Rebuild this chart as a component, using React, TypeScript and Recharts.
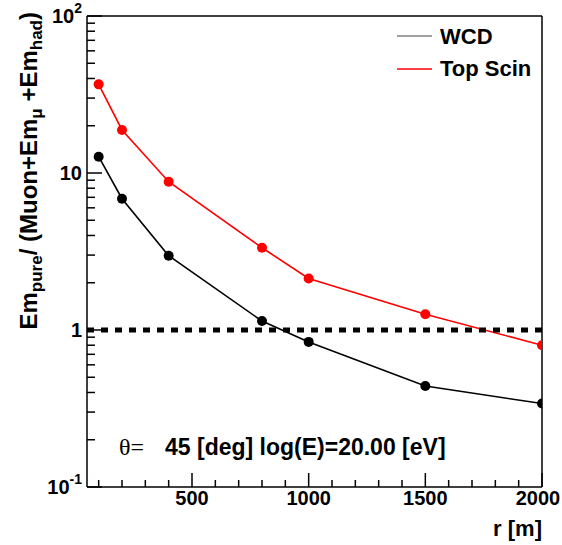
import React from 'react';
import { LineChart, Line, XAxis, YAxis, ReferenceLine } from 'recharts';

// r [m] of each station ring
const radii = [100, 200, 400, 800, 1000, 1500, 2000];
// Em_pure / (Muon + Em_mu + Em_had)
const wcdRatio = [12.7, 6.86, 2.97, 1.14, 0.84, 0.44, 0.34];
const topScinRatio = [36.7, 18.8, 8.8, 3.34, 2.13, 1.26, 0.8];

const xTicks = [
  100, 200, 300, 400, 500, 600, 700, 800, 900, 1000,
  1100, 1200, 1300, 1400, 1500, 1600, 1700, 1800, 1900, 2000,
];
const xLabels = [500, 1000, 1500, 2000];
const yTicks = [
  0.1, 0.2, 0.3, 0.4, 0.5, 0.6, 0.7, 0.8, 0.9,
  1, 2, 3, 4, 5, 6, 7, 8, 9,
  10, 20, 30, 40, 50, 60, 70, 80, 90, 100,
];
const yLabels: Record<string, [string, string]> = {
  '0.1': ['10', '-1'],
  '1': ['1', ''],
  '10': ['10', ''],
  '100': ['10', '2'],
};

const FONT = '"Liberation Sans", Arial, Helvetica, sans-serif';

const data = radii.map((r, i) => ({ r, wcd: wcdRatio[i], scin: topScinRatio[i] }));

const XTick = (props: any) => {
  const { x, y, payload } = props;
  const v = payload.value;
  const major = xLabels.includes(v);
  // keep the last label inside the page, like the original
  const tx = Math.min(x, 538);
  return (
    <g>
      <line x1={x} x2={x} y1={y} y2={y - (major ? 14 : 7)} stroke="#000" strokeWidth={1.5} />
      {major && (
        <text x={tx} y={y + 18} textAnchor="middle" fontFamily={FONT} fontWeight="bold" fontSize={20} fill="#000">
          {v}
        </text>
      )}
    </g>
  );
};

const YTick = (props: any) => {
  const { x, y, payload } = props;
  const lbl = yLabels[String(payload.value)];
  return (
    <g>
      <line x1={x} x2={x + (lbl ? 15 : 8)} y1={y} y2={y} stroke="#000" strokeWidth={1.5} />
      {lbl && (
        <text x={x - 5} y={y + 7} textAnchor="end" fontFamily={FONT} fontWeight="bold" fontSize={20} fill="#000">
          {lbl[0]}
          {lbl[1] && (
            <tspan dy={-10} fontSize={14}>
              {lbl[1]}
            </tspan>
          )}
        </text>
      )}
    </g>
  );
};

export default function App() {
  return (
    <div style={{ position: 'absolute', left: 0, top: 0, width: 562, height: 545, background: '#fff' }}>
      <LineChart width={562} height={545} data={data} margin={{ top: 16, right: 20, bottom: 28, left: 47 }}>
        <XAxis
          dataKey="r"
          type="number"
          domain={[50, 2000]}
          allowDataOverflow
          ticks={xTicks}
          interval={0}
          height={30}
          tickSize={0}
          tickMargin={0}
          tick={<XTick />}
          tickLine={false}
          axisLine={{ stroke: '#000', strokeWidth: 1.5 }}
        />
        <YAxis
          type="number"
          scale="log"
          domain={[0.1, 100]}
          allowDataOverflow
          ticks={yTicks}
          interval={0}
          width={40}
          tickSize={0}
          tickMargin={0}
          tick={<YTick />}
          tickLine={false}
          axisLine={{ stroke: '#000', strokeWidth: 1.5 }}
        />
        <ReferenceLine y={100} stroke="#000" strokeWidth={1.5} />
        <ReferenceLine x={2000} stroke="#000" strokeWidth={1.5} />
        <Line
          dataKey="wcd"
          stroke="#000"
          strokeWidth={1.6}
          dot={{ r: 5, fill: '#000', stroke: '#000', strokeWidth: 0 }}
          isAnimationActive={false}
        />
        <Line
          dataKey="scin"
          stroke="#ff0000"
          strokeWidth={1.6}
          dot={{ r: 5, fill: '#ff0000', stroke: '#ff0000', strokeWidth: 0 }}
          isAnimationActive={false}
        />
        <ReferenceLine y={1} stroke="#000" strokeWidth={5} strokeDasharray="7 7" />
      </LineChart>
      <svg
        width={562}
        height={545}
        style={{ position: 'absolute', left: 0, top: 0, pointerEvents: 'none' }}
        fontFamily={FONT}
        fontWeight="bold"
      >
        {/* y title */}
        <text transform="translate(37,12) rotate(-90)" textAnchor="end" fontSize={24} fill="#000">
          Em<tspan dy={5} fontSize={17}>pure</tspan>
          <tspan dy={-5}>/ (Muon+Em</tspan>
          <tspan dy={5} fontSize={17}>μ</tspan>
          <tspan dy={-5}> +Em</tspan>
          <tspan dy={5} fontSize={17}>had</tspan>
          <tspan dy={-5}>)</tspan>
        </text>
        {/* x title */}
        <text x={542} y={536} textAnchor="end" fontSize={22} fill="#000">
          r [m]
        </text>
        {/* legend */}
        <line x1={397} x2={432} y1={36} y2={36} stroke="#808080" strokeWidth={1.5} />
        <text x={440} y={44} fontSize={22} fill="#000">WCD</text>
        <line x1={397} x2={432} y1={69} y2={69} stroke="#ff0000" strokeWidth={1.5} />
        <text x={440} y={76} fontSize={22} fill="#000">Top Scin</text>
        {/* annotation */}
        <text x={119} y={455} fontSize={23} fill="#000">
          <tspan fontFamily='"Liberation Serif", serif' fontWeight="normal" fontSize={24}>θ=</tspan>
          <tspan x={165}>45 [deg] log(E)=20.00 [eV]</tspan>
        </text>
      </svg>
    </div>
  );
}
